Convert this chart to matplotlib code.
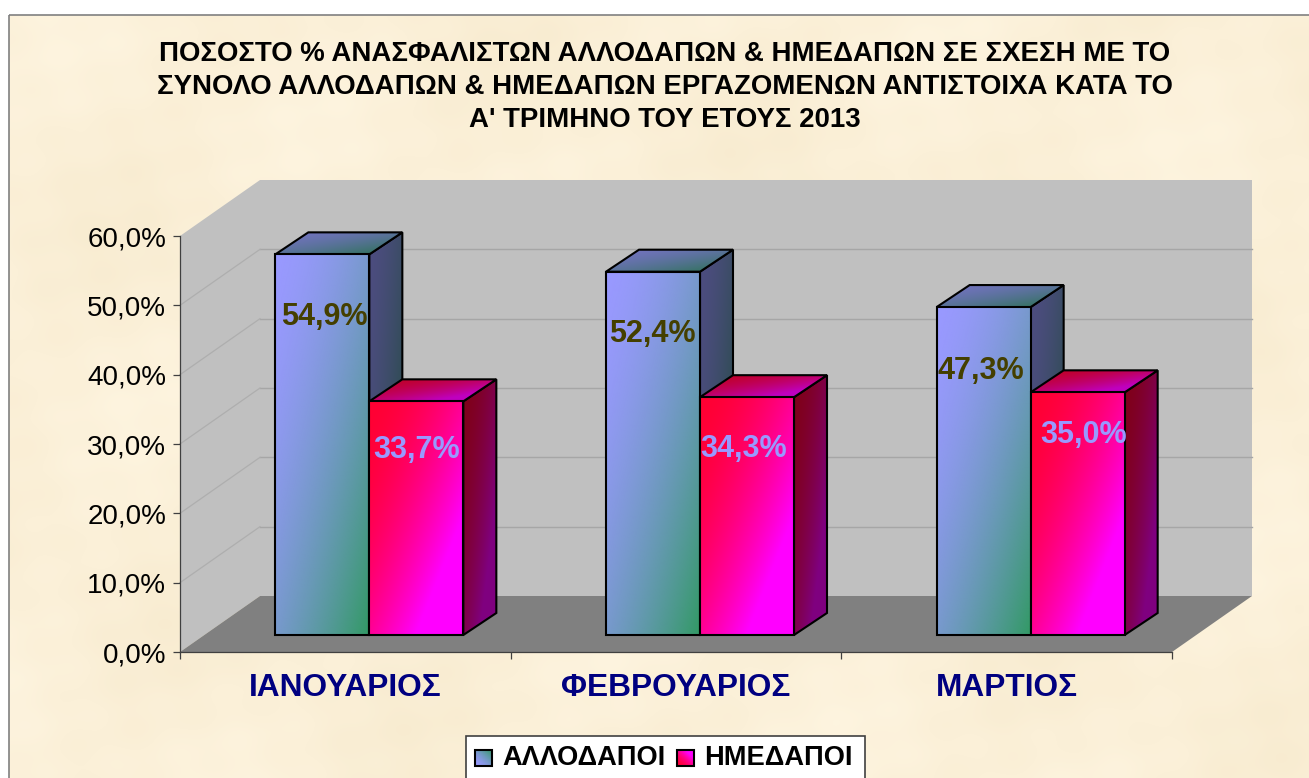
import numpy as np
import matplotlib
matplotlib.use('Agg')
import matplotlib.pyplot as plt
from matplotlib.colors import to_rgb
from matplotlib.patches import Polygon, Rectangle

plt.rcParams['font.family'] = ['Liberation Sans', 'DejaVu Sans']

# Data
months = ['ΙΑΝΟΥΑΡΙΟΣ', 'ΦΕΒΡΟΥΑΡΙΟΣ', 'ΜΑΡΤΙΟΣ']
series_names = ['ΑΛΛΟΔΑΠΟΙ', 'ΗΜΕΔΑΠΟΙ']
foreign = [54.9, 52.4, 47.3]
native = [33.7, 34.3, 35.0]
y_ticks = [0, 10, 20, 30, 40, 50, 60]
y_tick_labels = ['0,0%', '10,0%', '20,0%', '30,0%', '40,0%', '50,0%', '60,0%']
title = ('ΠΟΣΟΣΤΟ % ΑΝΑΣΦΑΛΙΣΤΩΝ ΑΛΛΟΔΑΠΩΝ & ΗΜΕΔΑΠΩΝ ΣΕ ΣΧΕΣΗ ΜΕ ΤΟ\n'
         'ΣΥΝΟΛΟ ΑΛΛΟΔΑΠΩΝ & ΗΜΕΔΑΠΩΝ ΕΡΓΑΖΟΜΕΝΩΝ ΑΝΤΙΣΤΟΙΧΑ ΚΑΤΑ ΤΟ\n'
         'Α\' ΤΡΙΜΗΝΟ ΤΟΥ ΕΤΟΥΣ 2013')

# Layout, in pixels of the 1309x778 picture
W, H = 1309, 778
LEFT, RIGHT, TOP, BOTTOM = 180, 1172, 236, 652
ymax = y_ticks[-1]
px_x = (RIGHT - LEFT) / len(months)   # pixels per category
px_y = (BOTTOM - TOP) / ymax          # pixels per percent

# oblique depth of the box and of the bars, converted to data units
wall_dx, wall_dy = 80 / px_x, 56 / px_y
front_dx, front_dy = 24 / px_x, 17 / px_y
bar_dx, bar_dy = 33 / px_x, 22 / px_y
bar_w = 94 / px_x
gap = 1 - 2 * bar_w

# label offsets from the bar top centre, in pixels
foreign_label_off = [(2, -63), (-1, -62), (-3, -64)]
native_label_off = [(0, -49), (-3, -52), (6, -43)]

# gradient end colours, plus spread and curve of the ramp
blue = (to_rgb('#9999FF'), to_rgb('#339966'), 2.0, 1.6)
red = (to_rgb('#FF0033'), to_rgb('#FF00FF'), 1.5, 1.8)


def gradient(style, shade=1.0):
    # corner to corner gradient, top left to bottom right
    c0, c1, spread, curve = style
    u, v = np.meshgrid(np.linspace(0, 1, 80), np.linspace(0, 1, 80))
    t = (np.clip((u + v) / spread, 0, 1) ** curve)[..., None]
    return (np.array(c0) * (1 - t) + np.array(c1) * t) * shade


def face(a, pts, style, shade, z, lw=1.5):
    pts = np.array(pts)
    poly = Polygon(pts, closed=True, facecolor='none', edgecolor='black',
                   lw=lw, clip_on=False, zorder=z + 0.5, joinstyle='miter')
    a.add_patch(poly)
    im = a.imshow(gradient(style, shade), aspect='auto', interpolation='bilinear',
                  extent=(pts[:, 0].min(), pts[:, 0].max(), pts[:, 1].min(), pts[:, 1].max()),
                  zorder=z)
    im.set_clip_path(poly)
    im.set_clip_box(fig.bbox)


def bar3d(a, x0, value, style, z):
    y0 = front_dy
    y1 = value + front_dy
    x1 = x0 + bar_w
    face(a, [(x0, y0), (x1, y0), (x1, y1), (x0, y1)], style, 1.0, z + 2)
    face(a, [(x1, y0), (x1 + bar_dx, y0 + bar_dy), (x1 + bar_dx, y1 + bar_dy), (x1, y1)],
         style, 0.5, z)
    face(a, [(x0, y1), (x1, y1), (x1 + bar_dx, y1 + bar_dy), (x0 + bar_dx, y1 + bar_dy)],
         style, 0.75, z + 1)


def bar_label(a, x, value, off, color):
    a.annotate(f'{value:.1f}%'.replace('.', ','), (x, value + front_dy),
               xytext=(off[0] * 0.72, off[1] * 0.72), textcoords='offset points',
               ha='center', va='center', fontsize=22, fontweight='bold', color=color,
               zorder=50, annotation_clip=False)


fig = plt.figure(figsize=(W / 100, H / 100), dpi=100, facecolor='white')

# Parchment background and frame
bg = fig.add_axes([0, 0, 1, 1], zorder=0)
bg.axis('off')
xx, yy = np.meshgrid(np.arange(W), np.arange(H))
mottle = (np.sin(xx / 47 + yy / 83) + np.sin(xx / 131 - yy / 59 + 1.3)
          + 0.6 * np.sin(xx / 17 + yy / 23) * np.sin(xx / 29 - yy / 13))
paper = np.array([251, 240, 216])[None, None, :] + mottle[..., None] * np.array([1.0, 1.6, 2.8])
bg.imshow(np.clip(paper, 0, 255).astype(np.uint8), extent=(9, W, H, 15), aspect='auto', zorder=1)
bg.add_patch(Rectangle((9, 15), W + 10, H, facecolor='none', edgecolor='#808080', lw=1.2, zorder=2))
bg.set_xlim(0, W)
bg.set_ylim(H, 0)

# Chart, axes sit on the front plane of the 3D box
ax = fig.add_axes([LEFT / W, 1 - BOTTOM / H, (RIGHT - LEFT) / W, (BOTTOM - TOP) / H], zorder=1)
ax.patch.set_visible(False)
n = len(months)

ax.add_patch(Polygon([(wall_dx, wall_dy), (n + wall_dx, wall_dy), (n + wall_dx, ymax + wall_dy),
                      (wall_dx, ymax + wall_dy)], facecolor='#C0C0C0', edgecolor='none',
                     clip_on=False, zorder=0.1))
ax.add_patch(Polygon([(0, 0), (wall_dx, wall_dy), (wall_dx, ymax + wall_dy), (0, ymax)],
                     facecolor='#C0C0C0', edgecolor='none', clip_on=False, zorder=0.1))
ax.add_patch(Polygon([(0, 0), (n, 0), (n + wall_dx, wall_dy), (wall_dx, wall_dy)],
                     facecolor='#808080', edgecolor='none', clip_on=False, zorder=0.2))
for t in y_ticks[1:-1]:
    ax.plot([wall_dx, n + wall_dx], [t + wall_dy, t + wall_dy], color='#A6A6A6', lw=1.0,
            clip_on=False, zorder=0.3)
    ax.plot([0, wall_dx], [t, t + wall_dy], color='#AEAEAE', lw=0.9, clip_on=False, zorder=0.3)

for i in range(n):
    x0 = i + gap / 2 + front_dx
    bar3d(ax, x0, foreign[i], blue, 10 + i * 10)
    bar3d(ax, x0 + bar_w, native[i], red, 15 + i * 10)
    bar_label(ax, x0 + bar_w / 2, foreign[i], foreign_label_off[i], '#443F00')
    bar_label(ax, x0 + bar_w * 1.5, native[i], native_label_off[i], '#9999FF')

ax.set_xlim(0, n)
ax.set_ylim(0, ymax)
ax.set_yticks(y_ticks)
ax.set_yticklabels(y_tick_labels, fontsize=20, color='black')
ax.set_xticks(range(n + 1))
ax.set_xticklabels([])
ax.set_xticks([i + 0.5 for i in range(n)], minor=True)
ax.set_xticklabels(months, minor=True, fontsize=22.8, fontweight='bold', color='#000080')
ax.tick_params(axis='y', length=5, width=0.9, color='#404040', pad=5)
ax.tick_params(axis='x', which='major', length=5, width=0.9, color='#404040')
ax.tick_params(axis='x', which='minor', length=0, pad=15)
for s in ['top', 'right']:
    ax.spines[s].set_visible(False)
for s in ['left', 'bottom']:
    ax.spines[s].set_color('#404040')
    ax.spines[s].set_linewidth(0.9)
    ax.spines[s].set_zorder(5)

fig.text(665 / W, 1 - 87 / H, title, ha='center', va='center', fontsize=19.9, fontweight='bold',
         color='black', linespacing=1.36)

# Legend, cut by the bottom of the picture as in the original
lg = fig.add_axes([0, 0, 1, 1], zorder=2)
lg.patch.set_visible(False)
lg.axis('off')
lg.add_patch(Rectangle((466, 736), 399, 60, facecolor='white', edgecolor='#404040', lw=1.2, zorder=1))
swatches = [(475, blue, 502), (677, red, 704)]
for (sx, style, tx), name in zip(swatches, series_names):
    face(lg, [(sx, 766), (sx + 17, 766), (sx + 17, 750), (sx, 750)], style, 1.0, 2)
    lg.text(tx, 758, name, ha='left', va='center', fontsize=19.6, fontweight='bold', color='black', zorder=3)
lg.set_xlim(0, W)
lg.set_ylim(H, 0)

fig.savefig('out.png', dpi=100)
